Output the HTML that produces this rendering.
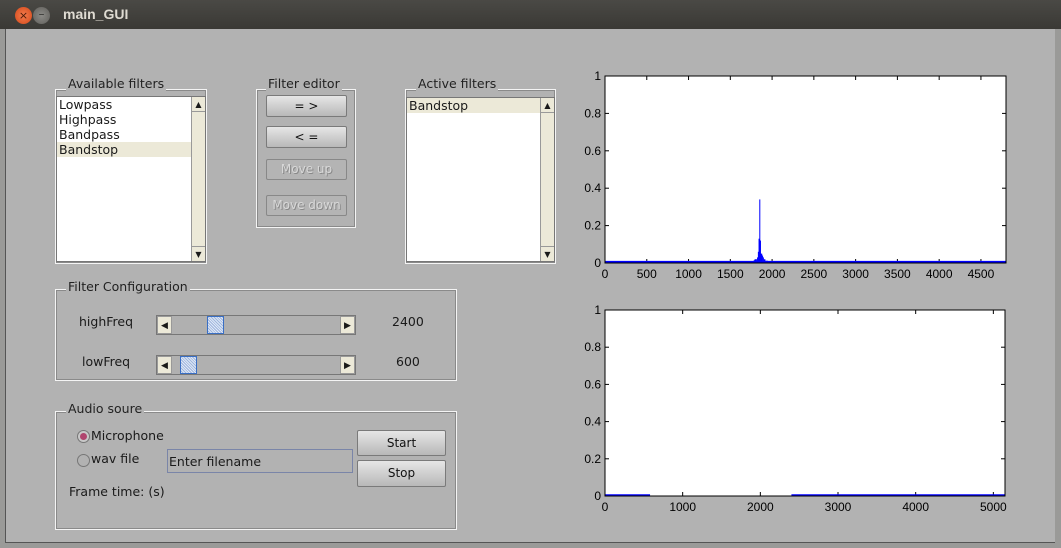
<!DOCTYPE html>
<html><head><meta charset="utf-8"><style>
*{box-sizing:border-box;margin:0;padding:0}
body{width:1061px;height:548px;overflow:hidden;background:#9a9a98;font-family:"DejaVu Sans","Liberation Sans",sans-serif;font-size:12px;color:#1a1a1a;position:relative}
.a{position:absolute}
.frame{border:1px solid #f4f4f4;box-shadow:inset 0 0 0 1px #8a8a8a}
.legend{position:absolute;background:#b2b2b2;padding:0 2px;font-size:12.5px;color:#222}
.btn{position:absolute;background:linear-gradient(#e6e6e6,#b8b8b8);border:1px solid #7a7a7a;border-radius:2px;text-align:center;font-size:12px;color:#111}
.btn.dis{background:#b4b4b4;color:#d8d8d8;text-shadow:1px 1px 0 #888;border-color:#888}
.list{position:absolute;background:#fff;border:1px solid #777}
.item{height:15px;line-height:15px;padding-left:2px;font-size:12.5px}
.sb{position:absolute;top:0;bottom:0;right:0;width:14px;background:#ece9d8;border-left:1px solid #999}
.slider{position:absolute;background:#b0b0b0;border:1px solid #777;height:20px}
.arr{position:absolute;top:0;width:15px;height:18px;background:#ece9d8;border:1px solid #999;font-size:9px;text-align:center;line-height:18px}
.thumb{position:absolute;top:0;width:17px;height:18px;border:1px solid #3a6fc4;background:repeating-linear-gradient(45deg,#dfe8f7 0 1px,#9fb6dd 1px 2px)}
</style></head><body>
<div class="a" style="left:0;top:0;width:1061px;height:29px;background:linear-gradient(#4a4945,#3a3935)"></div>
<div class="a" style="left:15px;top:7px;width:17px;height:17px;border-radius:50%;background:radial-gradient(#f47c4c,#d4481a);color:#4a1a08;font-size:11px;text-align:center;line-height:17px">×</div>
<div class="a" style="left:33px;top:7px;width:17px;height:17px;border-radius:50%;background:radial-gradient(#8c8b87,#5f5e5a);color:#3a3a38;font-size:12px;text-align:center;line-height:15px">–</div>
<div class="a" style="left:63px;top:6px;color:#dfdbd2;font-weight:bold;font-size:14px;font-family:'Liberation Sans',sans-serif">main_GUI</div>
<div class="a" style="left:5px;top:29px;width:1050px;height:514px;background:#b2b2b2;border-left:1px solid #555;border-bottom:1px solid #555"></div>

<div class="a frame" style="left:55px;top:89px;width:152px;height:175px"></div>
<div class="legend" style="left:66px;top:76px">Available filters</div>
<div class="list" style="left:56px;top:96px;width:150px;height:166px">
<div class="item">Lowpass</div>
<div class="item">Highpass</div>
<div class="item">Bandpass</div>
<div class="item" style="background:#ece9d8;width:134px">Bandstop</div>
<div class="sb"><div style="font-size:8px;text-align:center;border-bottom:1px solid #999;height:15px;line-height:15px">▲</div><div style="position:absolute;bottom:0;width:100%;font-size:8px;text-align:center;border-top:1px solid #999;height:15px;line-height:15px">▼</div></div>
</div>

<div class="a frame" style="left:256px;top:89px;width:100px;height:139px"></div>
<div class="legend" style="left:266px;top:76px">Filter editor</div>
<div class="btn" style="left:266px;top:95px;width:81px;height:22px;line-height:20px">= &gt;</div>
<div class="btn" style="left:266px;top:126px;width:81px;height:22px;line-height:20px">&lt; =</div>
<div class="btn dis" style="left:266px;top:159px;width:81px;height:21px;line-height:19px">Move up</div>
<div class="btn dis" style="left:266px;top:195px;width:81px;height:21px;line-height:19px">Move down</div>

<div class="a frame" style="left:405px;top:89px;width:151px;height:175px"></div>
<div class="legend" style="left:416px;top:76px">Active filters</div>
<div class="list" style="left:406px;top:97px;width:149px;height:165px">
<div class="item" style="background:#ece9d8;width:134px">Bandstop</div>
<div class="sb"><div style="font-size:8px;text-align:center;border-bottom:1px solid #999;height:15px;line-height:15px">▲</div><div style="position:absolute;bottom:0;width:100%;font-size:8px;text-align:center;border-top:1px solid #999;height:15px;line-height:15px">▼</div></div>
</div>

<div class="a frame" style="left:55px;top:289px;width:402px;height:92px"></div>
<div class="legend" style="left:66px;top:279px">Filter Configuration</div>
<div class="a" style="left:79px;top:314px;font-size:12.5px">highFreq</div>
<div class="slider" style="left:156px;top:315px;width:200px"><div class="arr" style="left:0">◀</div><div class="thumb" style="left:50px"></div><div class="arr" style="right:0">▶</div></div>
<div class="a" style="left:392px;top:314px;font-size:12.5px">2400</div>
<div class="a" style="left:82px;top:354px;font-size:12.5px">lowFreq</div>
<div class="slider" style="left:156px;top:355px;width:200px"><div class="arr" style="left:0">◀</div><div class="thumb" style="left:23px"></div><div class="arr" style="right:0">▶</div></div>
<div class="a" style="left:396px;top:354px;font-size:12.5px">600</div>

<div class="a frame" style="left:55px;top:411px;width:402px;height:119px"></div>
<div class="legend" style="left:66px;top:401px">Audio soure</div>
<div class="a" style="left:77px;top:430px;width:13px;height:13px;border-radius:50%;border:1px solid #777;background:#c8c8c8"><div style="margin:2px;width:7px;height:7px;border-radius:50%;background:#b0456e"></div></div>
<div class="a" style="left:91px;top:428px;font-size:12.5px">Microphone</div>
<div class="a" style="left:77px;top:454px;width:13px;height:13px;border-radius:50%;border:1px solid #777"></div>
<div class="a" style="left:91px;top:451px;font-size:12.5px">wav file</div>
<div class="a" style="left:167px;top:449px;width:186px;height:24px;border:1px solid #7a85a8;background:#b2b2b2;padding:4px 1px;font-size:12.5px">Enter filename</div>
<div class="btn" style="left:357px;top:430px;width:89px;height:26px;line-height:24px">Start</div>
<div class="btn" style="left:357px;top:460px;width:89px;height:27px;line-height:25px">Stop</div>
<div class="a" style="left:69px;top:484px;font-size:12.5px">Frame time: (s)</div>

<svg class="a" style="left:0;top:0" width="1061" height="548" font-family="Liberation Sans, sans-serif" font-size="12">
<g id="c1"></g>
<g id="c2"></g>
</svg>
<script>
const topFreqs=[1720,1740,1760,1780,1790,1800,1810,1820,1830,1838,1847,1855,1862,1870,1880,1890,1900,1920,1950,1980,2000];
const topVals=[0.01,0.01,0.01,0.015,0.02,0.02,0.02,0.03,0.06,0.13,0.34,0.12,0.05,0.05,0.04,0.03,0.02,0.012,0.01,0.01,0.01];
const topBaseline=0.006;
const topXTicks=[0,500,1000,1500,2000,2500,3000,3500,4000,4500];
const topXMax=4800;
const botSegStart=[0,2400];
const botSegEnd=[580,5150];
const botSegVal=[0.004,0.004];
const botXTicks=[0,1000,2000,3000,4000,5000];
const botXMax=5150;
const yTicks=[0,0.2,0.4,0.6,0.8,1];
const yTickLabels=['0','0.2','0.4','0.6','0.8','1'];

const NS='http://www.w3.org/2000/svg';
function mk(p,t,a){const e=document.createElementNS(NS,t);for(const k in a)e.setAttribute(k,a[k]);p.appendChild(e);return e;}
function axes(g,L,T,W,H,xmax,xt){
  const x=v=>L+v/xmax*W, y=v=>T+H-v*H;
  const bg=mk(g,'rect',{x:L,y:T,width:W,height:H,fill:'#fff'});
  
  
  yTicks.forEach((v,i)=>{
    mk(g,'line',{x1:L,x2:L+4,y1:y(v),y2:y(v),stroke:'#000'});
    mk(g,'line',{x1:L+W,x2:L+W-4,y1:y(v),y2:y(v),stroke:'#000'});
    const t=mk(g,'text',{x:L-4,y:y(v)+4,'text-anchor':'end'});t.textContent=yTickLabels[i];
    
    
  });
  xt.forEach(v=>{
    mk(g,'line',{x1:x(v),x2:x(v),y1:T+H,y2:T+H-4,stroke:'#000'});
    mk(g,'line',{x1:x(v),x2:x(v),y1:T,y2:T+4,stroke:'#000'});
    const t=mk(g,'text',{x:x(v),y:T+H+15,'text-anchor':'middle'});t.textContent=v;
    
    
  });
  return {x,y};
}
function frame(g,L,T,W,H){mk(g,'rect',{x:L,y:T,width:W,height:H,fill:'none',stroke:'#000'});}
(function(){
  const g=document.getElementById('c1');const L=605,T=76,W=401,H=187;
  const {x,y}=axes(g,L,T,W,H,topXMax,topXTicks);
  const base=mk(g,'rect',{x:L,y:y(topBaseline)-1,width:W,height:y(0)-y(topBaseline)+1,fill:'#0000ff'});
  
  
  topFreqs.forEach((f,i)=>{
    const nx=i<topFreqs.length-1?x(topFreqs[i+1]):x(f)+1.5;
    const w=Math.max(1,nx-x(f));
    const b=mk(g,'rect',{x:x(f),y:y(topVals[i]),width:w,height:y(0)-y(topVals[i]),fill:'#0000ff'});
    
    
  });
  frame(g,L,T,W,H);
})();
(function(){
  const g=document.getElementById('c2');const L=605,T=310,W=400,H=186;
  const {x,y}=axes(g,L,T,W,H,botXMax,botXTicks);
  botSegStart.forEach((s,i)=>{
    const r=mk(g,'rect',{x:x(s),y:y(botSegVal[i])-1,width:x(botSegEnd[i])-x(s),height:y(0)-y(botSegVal[i])+1,fill:'#0000ff'});
    
    
  });
  frame(g,L,T,W,H);
})();
</script>
</body></html>
